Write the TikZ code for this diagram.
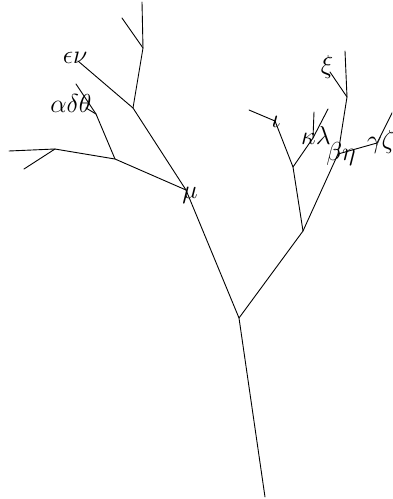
\documentclass[tikz,border=0pt]{standalone}
\usepackage{fix-cm}
\begin{document}
\begin{tikzpicture}[x=1pt,y=-1pt,
  edge/.style={line width=0.9pt,line cap=round},
  lbl/.style={inner sep=0pt,anchor=base,font=\fontsize{26}{30}\selectfont}]
\useasboundingbox (0,0) rectangle (392,499);
\clip (0,0) rectangle (392,499);
% tree points
\coordinate (r0) at (265,497);
\coordinate (r1) at (239,318);
\coordinate (mu) at (186,190);
\coordinate (p1) at (133,108);
\coordinate (p2) at (143,48);
\coordinate (p2a) at (142,2);
\coordinate (p2b) at (122,18);
\coordinate (en) at (78,61);
\coordinate (q1) at (115,159);
\coordinate (a) at (96,114);
\coordinate (aa) at (76,84);
\coordinate (adt) at (86,108);
\coordinate (l) at (55,149);
\coordinate (la) at (9,151);
\coordinate (lb) at (24,169);
\coordinate (s) at (303,231);
\coordinate (t) at (293,167);
\coordinate (io) at (275,121);
\coordinate (ioa) at (249,110);
\coordinate (k) at (313,138);
\coordinate (ka) at (328,109);
\coordinate (kb) at (314,112);
\coordinate (b) at (338,154);
\coordinate (u) at (347,97);
\coordinate (ua) at (345,51);
\coordinate (xi) at (330,72);
\coordinate (g) at (377,143);
\coordinate (ga) at (396,105);
% edges
\draw[edge] (r0) -- (r1) -- (mu) -- (p1) -- (p2) -- (p2a);
\draw[edge] (p2) -- (p2b);
\draw[edge] (p1) -- (en);
\draw[edge] (mu) -- (q1) -- (a) -- (aa);
\draw[edge] (a) -- (adt);
\draw[edge] (q1) -- (l) -- (la);
\draw[edge] (l) -- (lb);
\draw[edge] (r1) -- (s) -- (t) -- (io) -- (ioa);
\draw[edge] (t) -- (k) -- (ka);
\draw[edge] (k) -- (kb);
\draw[edge] (s) -- (b) -- (u) -- (ua);
\draw[edge] (u) -- (xi);
\draw[edge] (b) -- (g) -- (ga);
% labels
\node[lbl] (Len) at (75,63) {$\epsilon\nu$};
\node[lbl] (Ladt) at (71,112) {$\alpha\delta\theta$};
\node[lbl] (Lmu) at (190,198) {$\mu$};
\node[lbl] (Lio) at (276,127) {$\iota$};
\node[lbl] (Lkl) at (316,144) {$\kappa\lambda$};
\node[lbl] (Lxi) at (327,73) {$\xi$};
\node[lbl] (Lbe) at (341,160) {$\beta\eta$};
\node[lbl] (Lgz) at (381,148) {$\gamma\zeta$};
\end{tikzpicture}
\end{document}
